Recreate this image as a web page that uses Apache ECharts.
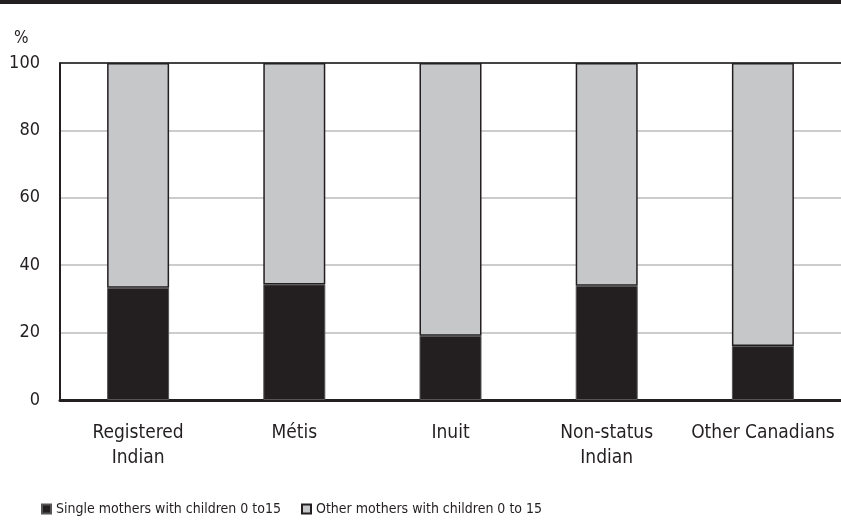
<!DOCTYPE html>
<html lang="en">
<head>
    <meta charset="utf-8">
    <title>Mothers with children 0 to 15</title>
    <script src="https://cdn.jsdelivr.net/npm/echarts@6/dist/echarts.min.js"></script>
    <style>
        html, body { margin: 0; padding: 0; background: #fff; }
    </style>
</head>
<body>
<div id="main" style="width: 841px;height:522px;"></div>
<script type="text/javascript">
    // data
    var groups = ['Registered\nIndian', 'Métis', 'Inuit', 'Non-status\nIndian', 'Other Canadians'];
    var single = [33.3, 34.3, 19.1, 33.9, 16.0];
    var other = [66.7, 65.7, 80.9, 66.1, 84.0];
    var yTicks = [0, 20, 40, 60, 80, 100];
    var seriesNames = ['Single mothers with children 0 to15', 'Other mothers with children 0 to 15'];

    var font = '"DejaVu Sans Condensed", sans-serif';
    var ink = '#231f20';

    var myChart = echarts.init(document.getElementById('main'));
    var legendBase = {
        top: 497,
        itemWidth: 9,
        itemHeight: 9,
        icon: 'rect',
        textStyle: { fontFamily: font, fontSize: 14, color: ink }
    };
    var option = {
        animation: false,
        textStyle: { fontFamily: font, color: ink },
        graphic: [
            { type: 'rect', left: 0, top: 0, shape: { width: 841, height: 4 }, style: { fill: ink } },
            { type: 'text', left: 14, top: 30, style: { text: '%', font: '17px ' + font, fill: ink } }
        ],
        grid: { left: 60, top: 63, width: 785, height: 337 },
        legend: [
            Object.assign({ left: 36, data: [seriesNames[0]] }, legendBase),
            Object.assign({ left: 296, data: [seriesNames[1]] }, legendBase)
        ],
        xAxis: {
            type: 'category',
            data: groups,
            axisLine: { lineStyle: { color: ink, width: 3 } },
            axisTick: { show: false },
            axisLabel: { interval: 0, fontSize: 19, color: ink, margin: 21, lineHeight: 25, fontFamily: font }
        },
        yAxis: {
            type: 'value',
            min: yTicks[0],
            max: yTicks[yTicks.length - 1],
            interval: 20,
            axisLine: { show: true, lineStyle: { color: ink, width: 2 } },
            axisTick: { show: false },
            axisLabel: { fontSize: 18, color: ink, margin: 20, fontFamily: font },
            splitLine: { lineStyle: { color: ['rgba(0,0,0,0)', '#cccccc', '#cccccc', '#cccccc', '#cccccc', '#444444'], width: 2 } }
        },
        series: [{
            name: seriesNames[0],
            type: 'bar',
            stack: 'all',
            data: single,
            barWidth: 62,
            itemStyle: { color: ink, borderColor: '#555', borderWidth: 1 }
        }, {
            name: seriesNames[1],
            type: 'bar',
            stack: 'all',
            data: other,
            barWidth: 62,
            itemStyle: { color: '#c6c7c8', borderColor: ink, borderWidth: 1.5 }
        }]
    };
    myChart.setOption(option);
</script>
</body>
</html>
